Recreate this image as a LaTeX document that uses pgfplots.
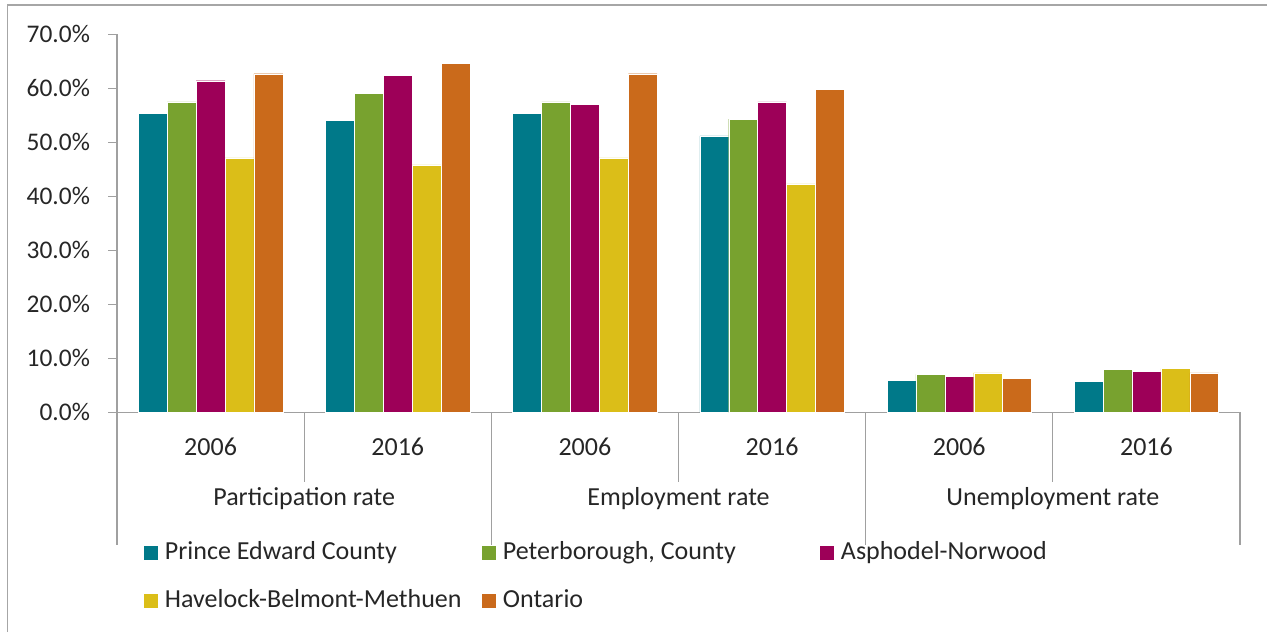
\documentclass[border=0pt]{standalone}
\usepackage{pgfplots}
\pgfplotsset{compat=1.18}
\usepackage{fontspec}
\setmainfont{Carlito}
\definecolor{cTeal}{RGB}{0,121,137}
\definecolor{cGreen}{RGB}{120,162,47}
\definecolor{cMag}{RGB}{157,0,88}
\definecolor{cYel}{RGB}{219,190,24}
\definecolor{cOra}{RGB}{202,106,27}
\definecolor{cAxis}{RGB}{160,160,160}
\definecolor{cFrame}{RGB}{166,166,166}
\definecolor{cText}{RGB}{38,38,38}
\newcommand{\lc}[1]{\makebox[158.5pt][l]{#1}}
\begin{document}
\fontsize{13}{15.6}\selectfont
\begin{tikzpicture}
\useasboundingbox (0,0) rectangle (633.5pt,-316pt);
\draw[cFrame, line width=0.6pt] (3.75pt,-316pt) -- (3.75pt,-2.5pt) -- (633.5pt,-2.5pt);
\begin{axis}[
  at={(58.5pt,-17.15pt)}, anchor=north west,
  scale only axis, width=561.5pt, height=189pt,
  ybar=0pt, bar width=0.1544,
  xmin=-0.5, xmax=5.5, ymin=0, ymax=70,
  xtick=\empty,
  ytick={0,10,...,70},
  yticklabel={\pgfmathprintnumber[fixed,fixed zerofill,precision=1]{\tick}\%\hspace*{4.5pt}},
  /pgf/number format/assume math mode=true,
  tick label style={font=\fontsize{12.7}{15}\selectfont, text=cText},
  axis x line*=bottom, axis y line*=left,
  axis line style={cAxis, line width=0.6pt},
  y axis line style={-}, x axis line style={-},
  ytick style={cAxis, line width=0.6pt},
  tick align=outside, major tick length=4.5pt,
  clip=false,
  every axis plot/.append style={draw=white, line width=0.2pt},
  legend columns=3,
  legend style={draw=none, fill=none, at={(0.024,-0.343)}, anchor=north west,
    inner sep=0pt, outer sep=0pt, column sep=0pt, row sep=12pt,
    font=\fontsize{13}{15.6}\selectfont, text=cText,
    nodes={inner sep=0pt, text height=9pt, text depth=3pt, anchor=base west},
    /tikz/every odd column/.append style={column sep=3.5pt}},
  legend image code/.code={\fill[#1, draw=none] (0pt,0.2pt) rectangle (7pt,7.2pt);},
]
\addplot[fill=cTeal] coordinates {(0,55.4) (1,54.1) (2,55.4) (3,51.2) (4,5.9) (5,5.7)};
\addplot[fill=cGreen] coordinates {(0,57.5) (1,59.1) (2,57.5) (3,54.3) (4,7.0) (5,8.0)};
\addplot[fill=cMag] coordinates {(0,61.4) (1,62.4) (2,57.0) (3,57.5) (4,6.7) (5,7.6)};
\addplot[fill=cYel] coordinates {(0,47.1) (1,45.8) (2,47.1) (3,42.3) (4,7.3) (5,8.1)};
\addplot[fill=cOra] coordinates {(0,62.7) (1,64.6) (2,62.7) (3,59.8) (4,6.3) (5,7.3)};
\legend{\lc{Prince Edward County}, \lc{Peterborough, County}, \lc{Asphodel-Norwood}, \lc{Havelock-Belmont-Methuen}, \lc{Ontario}}
% category separators
\draw[cAxis, line width=0.6pt] (axis cs:-0.5,0) -- (axis cs:-0.5,-24.6);
\draw[cAxis, line width=0.6pt] (axis cs:1.5,0) -- (axis cs:1.5,-24.6);
\draw[cAxis, line width=0.6pt] (axis cs:3.5,0) -- (axis cs:3.5,-24.6);
\draw[cAxis, line width=0.6pt] (axis cs:5.5,0) -- (axis cs:5.5,-24.6);
\draw[cAxis, line width=0.6pt] (axis cs:0.5,0) -- (axis cs:0.5,-12.9);
\draw[cAxis, line width=0.6pt] (axis cs:2.5,0) -- (axis cs:2.5,-12.9);
\draw[cAxis, line width=0.6pt] (axis cs:4.5,0) -- (axis cs:4.5,-12.9);
\node[text=cText] at (axis cs:0,-6.4) {2006};
\node[text=cText] at (axis cs:1,-6.4) {2016};
\node[text=cText] at (axis cs:2,-6.4) {2006};
\node[text=cText] at (axis cs:3,-6.4) {2016};
\node[text=cText] at (axis cs:4,-6.4) {2006};
\node[text=cText] at (axis cs:5,-6.4) {2016};
\node[text=cText] at (axis cs:0.5,-16.0) {Participation rate};
\node[text=cText] at (axis cs:2.5,-16.0) {Employment rate};
\node[text=cText] at (axis cs:4.5,-16.0) {Unemployment rate};
\end{axis}
\end{tikzpicture}
\end{document}
